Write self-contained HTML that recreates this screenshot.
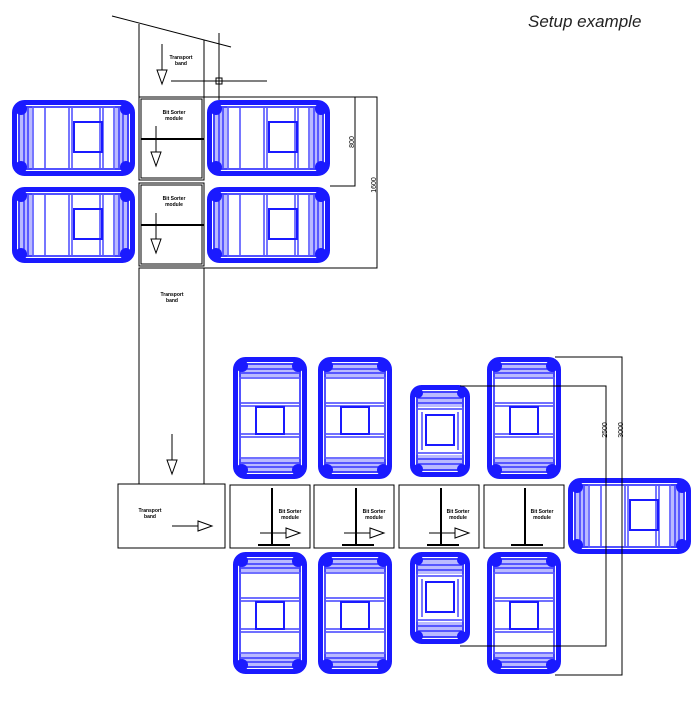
<!DOCTYPE html>
<html><head><meta charset="utf-8"><style>
html,body{margin:0;padding:0;background:#fff;width:698px;height:703px;overflow:hidden}
svg{display:block}
text{font-family:"Liberation Sans",sans-serif}
</style></head><body>
<svg width="698" height="703" viewBox="0 0 698 703" xmlns="http://www.w3.org/2000/svg">
<defs>
<g id="mh">
 <rect x="2.5" y="2.5" width="118" height="71" rx="10" fill="#fff" stroke="#1a1aff" stroke-width="5"/>
 <rect x="7" y="7" width="109" height="62" rx="6" fill="none" stroke="#1a1aff" stroke-width="1.5"/>
 <rect x="6" y="6" width="14" height="64" fill="#1a1aff" opacity="0.3"/>
 <rect x="103" y="6" width="14" height="64" fill="#1a1aff" opacity="0.3"/>
 <g stroke="#1a1aff" stroke-width="1.2" fill="none">
  <line x1="12" y1="8" x2="12" y2="68"/><line x1="16" y1="8" x2="16" y2="68"/><line x1="21" y1="8" x2="21" y2="68"/>
  <line x1="102" y1="8" x2="102" y2="68"/><line x1="107" y1="8" x2="107" y2="68"/><line x1="111" y1="8" x2="111" y2="68"/>
  <line x1="33" y1="8" x2="33" y2="68"/><line x1="57" y1="8" x2="57" y2="68"/><line x1="60" y1="8" x2="60" y2="68"/>
  <line x1="88" y1="8" x2="88" y2="68"/><line x1="91" y1="8" x2="91" y2="68"/>
 </g>
 <rect x="62" y="22" width="28" height="30" fill="none" stroke="#1a1aff" stroke-width="2"/>
 <circle cx="9" cy="9" r="6" fill="#1a1aff"/><circle cx="114" cy="9" r="6" fill="#1a1aff"/>
 <circle cx="9" cy="67" r="6" fill="#1a1aff"/><circle cx="114" cy="67" r="6" fill="#1a1aff"/>
</g>
<g id="mv">
 <rect x="2.5" y="2.5" width="69" height="117" rx="10" fill="#fff" stroke="#1a1aff" stroke-width="5"/>
 <rect x="7" y="7" width="60" height="108" rx="6" fill="none" stroke="#1a1aff" stroke-width="1.5"/>
 <rect x="6" y="6" width="62" height="14" fill="#1a1aff" opacity="0.3"/>
 <rect x="6" y="102" width="62" height="14" fill="#1a1aff" opacity="0.3"/>
 <g stroke="#1a1aff" stroke-width="1.2" fill="none">
  <line x1="8" y1="12" x2="66" y2="12"/><line x1="8" y1="16" x2="66" y2="16"/><line x1="8" y1="21" x2="66" y2="21"/>
  <line x1="8" y1="101" x2="66" y2="101"/><line x1="8" y1="106" x2="66" y2="106"/><line x1="8" y1="110" x2="66" y2="110"/>
  <line x1="8" y1="46" x2="66" y2="46"/><line x1="8" y1="49" x2="66" y2="49"/>
  <line x1="8" y1="77" x2="66" y2="77"/><line x1="8" y1="80" x2="66" y2="80"/>
 </g>
 <rect x="23" y="50" width="28" height="27" fill="none" stroke="#1a1aff" stroke-width="2"/>
 <circle cx="9" cy="9" r="6" fill="#1a1aff"/><circle cx="65" cy="9" r="6" fill="#1a1aff"/>
 <circle cx="9" cy="113" r="6" fill="#1a1aff"/><circle cx="65" cy="113" r="6" fill="#1a1aff"/>
</g>
<g id="ms">
 <rect x="2.5" y="2.5" width="55" height="87" rx="9" fill="#fff" stroke="#1a1aff" stroke-width="5"/>
 <rect x="7" y="7" width="46" height="78" rx="5" fill="none" stroke="#1a1aff" stroke-width="1.5"/>
 <rect x="6" y="6" width="48" height="16" fill="#1a1aff" opacity="0.3"/>
 <rect x="6" y="70" width="48" height="16" fill="#1a1aff" opacity="0.3"/>
 <g stroke="#1a1aff" stroke-width="1.2" fill="none">
  <line x1="8" y1="13" x2="52" y2="13"/><line x1="8" y1="18" x2="52" y2="18"/><line x1="8" y1="24" x2="52" y2="24"/>
  <line x1="8" y1="68" x2="52" y2="68"/><line x1="8" y1="74" x2="52" y2="74"/><line x1="8" y1="79" x2="52" y2="79"/>
  <line x1="12" y1="27" x2="12" y2="65"/><line x1="48" y1="27" x2="48" y2="65"/>
 </g>
 <rect x="16" y="30" width="28" height="30" fill="none" stroke="#1a1aff" stroke-width="2"/>
 <circle cx="8" cy="8" r="5" fill="#1a1aff"/><circle cx="52" cy="8" r="5" fill="#1a1aff"/>
 <circle cx="8" cy="84" r="5" fill="#1a1aff"/><circle cx="52" cy="84" r="5" fill="#1a1aff"/>
</g>
<g id="arrd"><line x1="0" y1="-40" x2="0" y2="0" stroke="#000"/><path d="M-5,-14 L5,-14 L0,0 Z" fill="#fff" stroke="#000"/></g>
<g id="arrr"><line x1="-40" y1="0" x2="0" y2="0" stroke="#000"/><path d="M-14,-5 L-14,5 L0,0 Z" fill="#fff" stroke="#000"/></g>
</defs>

<text x="528" y="27" font-size="17" font-style="italic" fill="#222" font-family="DejaVu Sans, sans-serif">Setup example</text>

<use href="#mh" x="12" y="100"/><use href="#mh" x="207" y="100"/>
<use href="#mh" x="12" y="187"/><use href="#mh" x="207" y="187"/>
<use href="#mv" x="233" y="357"/><use href="#mv" x="318" y="357"/><use href="#mv" x="487" y="357"/>
<use href="#mv" x="233" y="552"/><use href="#mv" x="318" y="552"/><use href="#mv" x="487" y="552"/>
<use href="#ms" x="410" y="385"/><use href="#ms" x="410" y="552"/>
<use href="#mh" x="568" y="478"/>

<g fill="none" stroke="#000" stroke-width="1">
 <line x1="112" y1="16" x2="231" y2="47"/>
 <line x1="139" y1="24" x2="139" y2="97"/><line x1="204" y1="40" x2="204" y2="97"/>
 <line x1="219" y1="33" x2="219" y2="100"/><line x1="171" y1="81" x2="267" y2="81"/>
 <rect x="216" y="78" width="6" height="6"/>
 <rect x="139" y="97" width="65" height="83"/><rect x="141" y="99" width="61" height="79"/>
 <rect x="139" y="183" width="65" height="83"/><rect x="141" y="185" width="61" height="79"/>
 <rect x="139" y="268" width="65" height="216"/>
 <polyline points="204,97 355,97 355,186 330,186"/>
 <polyline points="330,97 377,97 377,268 204,268"/>
 <rect x="118" y="484" width="107" height="64"/>
 <rect x="230" y="485" width="80" height="63"/><rect x="314" y="485" width="80" height="63"/>
 <rect x="399" y="485" width="80" height="63"/><rect x="484" y="485" width="80" height="63"/>
 <polyline points="460,386 606,386 606,646 460,646"/>
 <polyline points="555,357 622,357 622,675 555,675"/>
</g>
<g stroke="#000" stroke-width="2">
 <line x1="141" y1="139" x2="204" y2="139"/><line x1="141" y1="225" x2="204" y2="225"/>
 <line x1="272" y1="488" x2="272" y2="546"/><line x1="356" y1="488" x2="356" y2="546"/>
 <line x1="441" y1="488" x2="441" y2="546"/><line x1="525" y1="488" x2="525" y2="546"/>
 <line x1="258" y1="545" x2="290" y2="545"/><line x1="342" y1="545" x2="374" y2="545"/>
 <line x1="427" y1="545" x2="459" y2="545"/><line x1="511" y1="545" x2="543" y2="545"/>
</g>
<use href="#arrd" x="162" y="84"/>
<use href="#arrd" x="156" y="166"/><use href="#arrd" x="156" y="253"/>
<use href="#arrd" x="172" y="474"/>
<use href="#arrr" x="212" y="526"/>
<use href="#arrr" x="300" y="533"/><use href="#arrr" x="384" y="533"/><use href="#arrr" x="469" y="533"/>

<g font-size="5" font-weight="bold" text-anchor="middle">
 <text x="181" y="59">Transport</text><text x="181" y="65">band</text>
 <text x="174" y="114">Bit Sorter</text><text x="174" y="120">module</text>
 <text x="174" y="200">Bit Sorter</text><text x="174" y="206">module</text>
 <text x="172" y="296">Transport</text><text x="172" y="302">band</text>
 <text x="150" y="512">Transport</text><text x="150" y="518">band</text>
 <text x="290" y="513">Bit Sorter</text><text x="290" y="519">module</text>
 <text x="374" y="513">Bit Sorter</text><text x="374" y="519">module</text>
 <text x="458" y="513">Bit Sorter</text><text x="458" y="519">module</text>
 <text x="542" y="513">Bit Sorter</text><text x="542" y="519">module</text>
</g>
<g font-size="7" text-anchor="middle">
 <text transform="translate(354,142) rotate(-90)">800</text>
 <text transform="translate(376,185) rotate(-90)">1600</text>
 <text transform="translate(607,430) rotate(-90)">2500</text>
 <text transform="translate(623,430) rotate(-90)">3000</text>
</g>
</svg>
</body></html>
